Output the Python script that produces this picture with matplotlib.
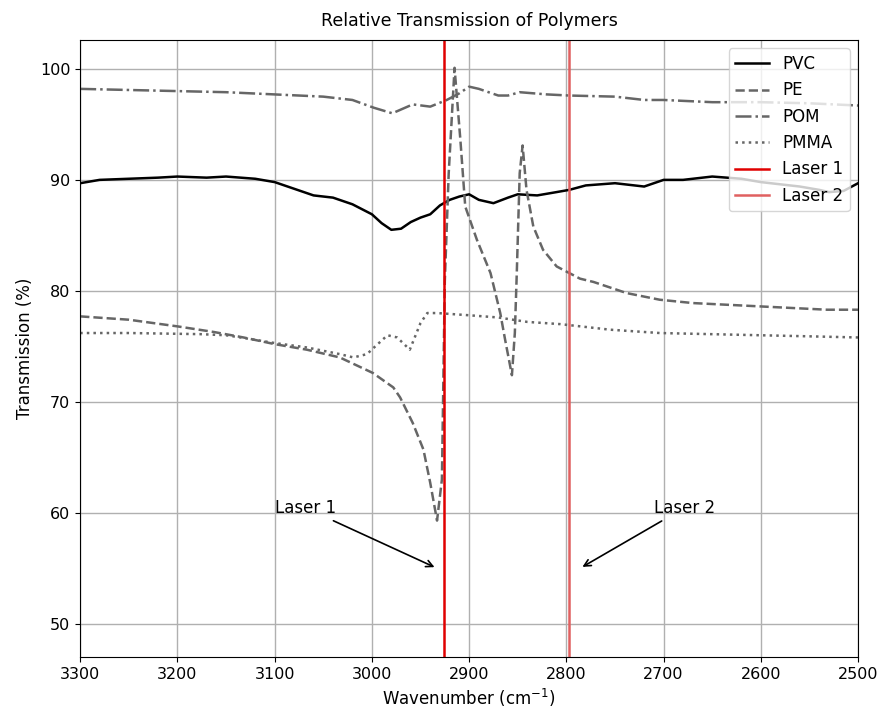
import numpy as np
import matplotlib.pyplot as plt

# Wavenumbers (cm^-1) and transmission (%)
pvc_x = [3300, 3280, 3250, 3220, 3200, 3170, 3150, 3120, 3100, 3080, 3060, 3040, 3020,
         3000, 2990, 2980, 2970, 2960, 2950, 2940, 2930, 2920, 2910, 2900, 2890, 2875,
         2860, 2850, 2830, 2810, 2797, 2780, 2750, 2720, 2700, 2680, 2650, 2620, 2600,
         2580, 2560, 2540, 2530, 2515, 2500]
pvc_y = [89.7, 90.0, 90.1, 90.2, 90.3, 90.2, 90.3, 90.1, 89.8, 89.2, 88.6, 88.4, 87.8,
         86.9, 86.1, 85.5, 85.6, 86.2, 86.6, 86.9, 87.7, 88.2, 88.5, 88.7, 88.2, 87.9,
         88.4, 88.7, 88.6, 88.9, 89.1, 89.5, 89.7, 89.4, 90.0, 90.0, 90.3, 90.1, 89.8,
         89.6, 89.4, 89.1, 88.9, 89.0, 89.7]

pe_x = [3300, 3250, 3200, 3163, 3132, 3100, 3067, 3033, 2999, 2978, 2971, 2958, 2947,
        2940, 2933, 2928, 2925, 2921, 2915, 2909, 2904, 2892, 2878, 2868, 2863, 2856,
        2853, 2851, 2848, 2845, 2841, 2834, 2824, 2810, 2786, 2772, 2738, 2704, 2670,
        2601, 2532, 2500]
pe_y = [77.7, 77.4, 76.8, 76.3, 75.8, 75.2, 74.7, 74.0, 72.6, 71.3, 70.4, 68.1, 65.7,
        62.7, 59.3, 63.0, 80.9, 90.6, 100.1, 93.6, 87.6, 84.6, 81.6, 78.0, 75.6, 72.4,
        76.2, 81.6, 90.6, 93.1, 89.1, 85.8, 83.7, 82.2, 81.1, 80.8, 79.8, 79.2, 78.9,
        78.6, 78.3, 78.3]

pom_x = [3300, 3250, 3200, 3150, 3100, 3050, 3020, 2998, 2979, 2958, 2940, 2923, 2910,
         2900, 2890, 2870, 2860, 2848, 2820, 2797, 2750, 2720, 2700, 2650, 2600, 2550,
         2500]
pom_y = [98.2, 98.1, 98.0, 97.9, 97.7, 97.5, 97.2, 96.5, 96.0, 96.8, 96.6, 97.2, 97.8,
         98.4, 98.2, 97.6, 97.6, 97.9, 97.7, 97.6, 97.5, 97.2, 97.2, 97.0, 97.0, 96.9,
         96.7]

pmma_x = [3300, 3250, 3177, 3150, 3135, 3100, 3067, 3033, 3019, 3005, 2999, 2984, 2974,
          2961, 2950, 2943, 2933, 2900, 2870, 2840, 2806, 2755, 2704, 2652, 2601, 2549,
          2500]
pmma_y = [76.2, 76.2, 76.1, 76.0, 75.8, 75.3, 74.9, 74.3, 74.0, 74.3, 74.8, 76.0, 75.8,
          74.7, 77.1, 78.0, 78.0, 77.8, 77.6, 77.2, 77.0, 76.5, 76.2, 76.1, 76.0, 75.9,
          75.8]

laser1 = 2926
laser2 = 2797

fig = plt.figure(figsize=(8.81, 7.15), dpi=100)
ax = fig.add_axes([0.091, 0.081, 0.883, 0.863])

gray = '#666666'
ax.plot(pvc_x, pvc_y, color='k', lw=1.8, label='PVC')
ax.plot(pe_x, pe_y, color=gray, lw=1.8, ls='--', label='PE')
ax.plot(pom_x, pom_y, color=gray, lw=1.8, ls='-.', label='POM')
ax.plot(pmma_x, pmma_y, color=gray, lw=1.8, ls=':', label='PMMA')
ax.axvline(laser1, color='#e00000', lw=1.8, label='Laser 1')
ax.axvline(laser2, color='#e06060', lw=1.8, label='Laser 2')

# arrows pointing at the laser lines
ax.annotate('Laser 1', xy=(2933, 55), xytext=(3100, 60), fontsize=12,
            arrowprops=dict(arrowstyle='->', color='k', lw=1.2))
ax.annotate('Laser 2', xy=(2786, 55), xytext=(2710, 60), fontsize=12,
            arrowprops=dict(arrowstyle='->', color='k', lw=1.2))

ax.set_xlim(3300, 2500)
ax.set_ylim(47, 102.6)
ax.set_xticks(np.arange(3300, 2499, -100))
ax.set_yticks([50, 60, 70, 80, 90, 100])
ax.tick_params(labelsize=11.5)
ax.grid(True, color='#b0b0b0', lw=1)
ax.set_title('Relative Transmission of Polymers', fontsize=12.5, pad=10)
ax.set_xlabel('Wavenumber (cm$^{-1}$)', fontsize=12)
ax.set_ylabel('Transmission (%)', fontsize=12)
ax.legend(loc='upper right', fontsize=12)

plt.savefig('out.png', dpi=100)
